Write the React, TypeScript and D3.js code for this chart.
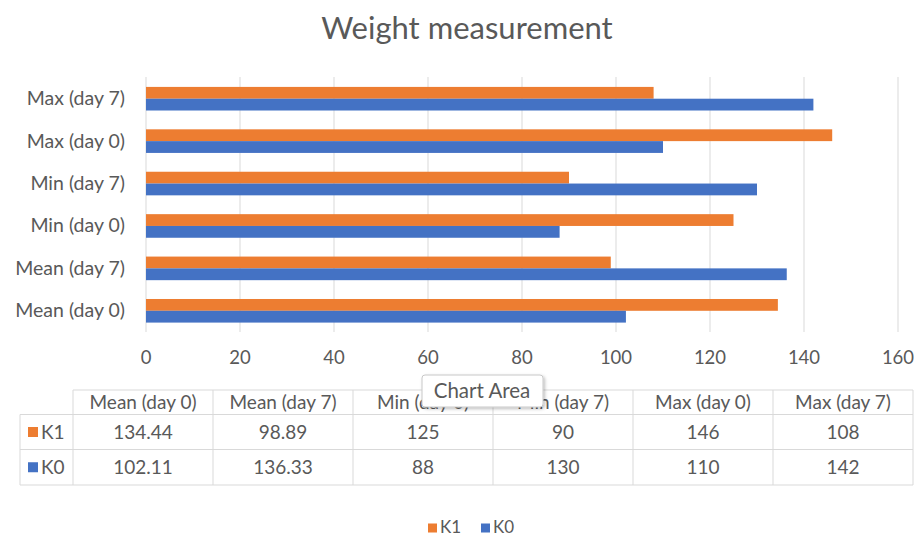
import React from "react";
import * as d3 from "d3";

const categories = ["Mean (day 0)", "Mean (day 7)", "Min (day 0)", "Min (day 7)", "Max (day 0)", "Max (day 7)"];
const seriesNames = ["K1", "K0"];
const k1Values = [134.44, 98.89, 125, 90, 146, 108];
const k0Values = [102.11, 136.33, 88, 130, 110, 142];
const k1Labels = ["134.44", "98.89", "125", "90", "146", "108"];
const k0Labels = ["102.11", "136.33", "88", "130", "110", "142"];
const xTicks = [0, 20, 40, 60, 80, 100, 120, 140, 160];
const colors = ["#ED7D31", "#4472C4"];

const W = 914;
const H = 537;
const FONT = "Lato, 'Open Sans', sans-serif";
const TXT = "#595959";
const GRID = "#D9D9D9";

export default function App() {
  const x = d3.scaleLinear().domain([0, 160]).range([146, 898]);
  const y = d3
    .scaleBand<string>()
    .domain([...categories].reverse())
    .range([77.5, 332])
    .paddingInner(0)
    .paddingOuter(0);
  const bw = y.bandwidth();
  const barH = 11.8;
  const series = [k1Values, k0Values];
  const seriesLabels = [k1Labels, k0Labels];

  const tableLeft = 20;
  const colStart = 73;
  const colRight = 913;
  const colScale = d3.scaleBand<string>().domain(categories).range([colStart, colRight]);
  const rowTops = [390, 414.5, 449.5, 485];

  return (
    <svg width={W} height={H} style={{ position: "absolute", left: 0, top: 0, background: "#fff" }}>
      <rect x={0} y={0} width={W} height={H} fill="#fff" />
      <text x={467} y={39} textAnchor="middle" fontFamily={FONT} fontSize={31} fill={TXT}>
        Weight measurement
      </text>
      {xTicks.map((t) => (
        <g key={t}>
          <line x1={x(t)} x2={x(t)} y1={77} y2={332} stroke={GRID} strokeWidth={1} />
          <text x={x(t)} y={364} textAnchor="middle" fontFamily={FONT} fontSize={18.5} fill={TXT}>
            {t}
          </text>
        </g>
      ))}
      {categories.map((c, i) => {
        const y0 = (y(c) as number) + bw / 2 - barH;
        return (
          <g key={c}>
            {series.map((s, j) => (
              <rect
                key={j}
                x={x(0)}
                y={y0 + j * barH}
                width={x(s[i]) - x(0)}
                height={barH}
                fill={colors[j]}
              />
            ))}
            <text
              x={125}
              y={(y(c) as number) + bw / 2 + 6.5}
              textAnchor="end"
              fontFamily={FONT}
              fontSize={19.5}
              fill={TXT}
            >
              {c}
            </text>
          </g>
        );
      })}
      {/* data table */}
      <g stroke={GRID} strokeWidth={1} fill="none">
        <line x1={colStart} x2={colRight} y1={rowTops[0]} y2={rowTops[0]} />
        <line x1={tableLeft} x2={colRight} y1={rowTops[1]} y2={rowTops[1]} />
        <line x1={tableLeft} x2={colRight} y1={rowTops[2]} y2={rowTops[2]} />
        <line x1={tableLeft} x2={colRight} y1={rowTops[3]} y2={rowTops[3]} />
        <line x1={tableLeft} x2={tableLeft} y1={rowTops[1]} y2={rowTops[3]} />
        {categories.map((c) => (
          <line key={c} x1={colScale(c)} x2={colScale(c)} y1={rowTops[0]} y2={rowTops[3]} />
        ))}
        <line x1={colRight} x2={colRight} y1={rowTops[0]} y2={rowTops[3]} />
      </g>
      {categories.map((c) => (
        <text
          key={c}
          x={(colScale(c) as number) + colScale.bandwidth() / 2}
          y={409}
          textAnchor="middle"
          fontFamily={FONT}
          fontSize={19}
          fill={TXT}
        >
          {c}
        </text>
      ))}
      {seriesNames.map((n, j) => {
        const cy = (rowTops[j + 1] + rowTops[j + 2]) / 2;
        return (
          <g key={n}>
            <rect x={28} y={cy - 5} width={10} height={10} fill={colors[j]} />
            <text x={41} y={cy + 6.5} fontFamily={FONT} fontSize={19} fill={TXT}>
              {n}
            </text>
            {categories.map((c, i) => (
              <text
                key={c}
                x={(colScale(c) as number) + colScale.bandwidth() / 2}
                y={cy + 6.5}
                textAnchor="middle"
                fontFamily={FONT}
                fontSize={19}
                fill={TXT}
              >
                {seriesLabels[j][i]}
              </text>
            ))}
          </g>
        );
      })}
      {/* tooltip */}
      <defs>
        <filter id="sh" x="-10%" y="-20%" width="130%" height="160%">
          <feDropShadow dx={1.5} dy={1.5} stdDeviation={1.5} floodColor="#000" floodOpacity={0.25} />
        </filter>
      </defs>
      <rect x={422} y={375} width={121} height={32} rx={3} fill="#fff" stroke="#C8C8C8" strokeWidth={1} filter="url(#sh)" />
      <text x={482} y={398} textAnchor="middle" fontFamily={FONT} fontSize={20.5} fill={TXT}>
        Chart Area
      </text>
      {/* legend */}
      {seriesNames.map((n, j) => (
        <g key={n}>
          <rect x={428 + j * 53} y={523.5} width={9} height={9} fill={colors[j]} />
          <text x={440 + j * 53} y={533} fontFamily={FONT} fontSize={17} fill={TXT}>
            {n}
          </text>
        </g>
      ))}
    </svg>
  );
}
